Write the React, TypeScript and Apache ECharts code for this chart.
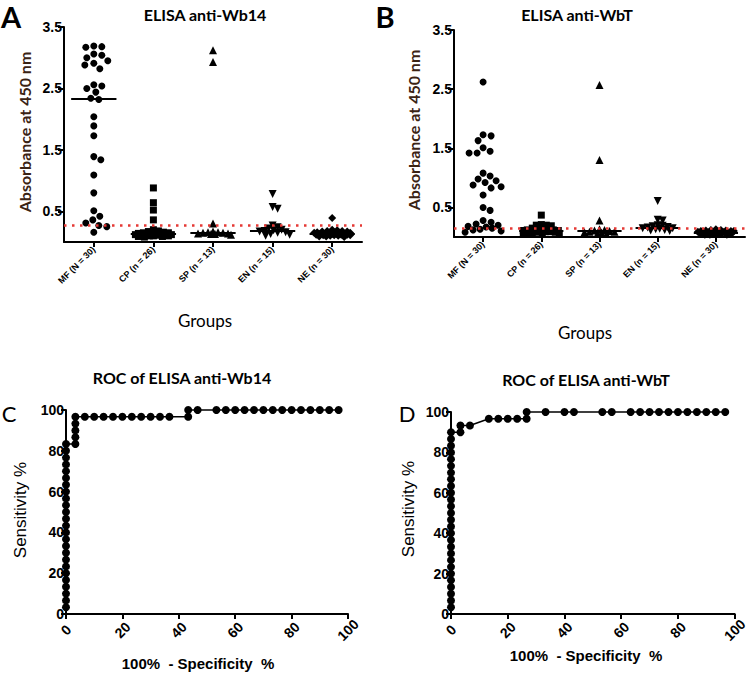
import React, { useEffect, useRef } from "react";
import * as echarts from "echarts";

const groups = ["MF (N = 30)", "CP (n = 26)", "SP (n = 13)", "EN (n = 15)", "NE (n = 30)"];
const groupSymbols = ["circle", "rect", "triangle", "triangle", "diamond"];
const groupSymbolRotate = [0, 0, 0, 180, 0];
const groupSymbolSize = [7, 7, 8, 8, 8];

// Panel A – ELISA anti-Wb14 absorbance values
const aMF = [3.19, 3.18, 3.17, 3.06, 3.04, 3.0, 2.95, 2.91, 2.88, 2.82, 2.56, 2.54, 2.5, 2.44, 2.34, 2.32, 2.04, 1.89, 1.73, 1.39, 1.34, 1.09, 0.8, 0.51, 0.42, 0.36, 0.31, 0.27, 0.25, 0.16];
const aCP = [0.88, 0.64, 0.52, 0.36, 0.2, 0.18, 0.17, 0.16, 0.15, 0.15, 0.14, 0.14, 0.13, 0.13, 0.12, 0.12, 0.12, 0.11, 0.11, 0.11, 0.1, 0.1, 0.1, 0.09, 0.09, 0.08];
const aSP = [3.12, 2.93, 0.3, 0.17, 0.16, 0.16, 0.15, 0.15, 0.14, 0.14, 0.13, 0.13, 0.12];
const aEN = [0.78, 0.57, 0.54, 0.27, 0.24, 0.22, 0.2, 0.19, 0.18, 0.17, 0.16, 0.15, 0.13, 0.12, 0.1];
const aNE = [0.39, 0.2, 0.19, 0.18, 0.18, 0.17, 0.17, 0.16, 0.16, 0.16, 0.15, 0.15, 0.15, 0.14, 0.14, 0.14, 0.13, 0.13, 0.13, 0.12, 0.12, 0.12, 0.11, 0.11, 0.11, 0.1, 0.1, 0.09, 0.09, 0.08];
const aCutoff = 0.28;

// Panel B – ELISA anti-WbT absorbance values
const bMF = [2.62, 1.73, 1.71, 1.63, 1.51, 1.45, 1.42, 1.42, 1.08, 1.03, 0.98, 0.95, 0.92, 0.88, 0.85, 0.83, 0.71, 0.5, 0.45, 0.28, 0.25, 0.22, 0.2, 0.18, 0.17, 0.15, 0.13, 0.12, 0.1, 0.08];
const bCP = [0.37, 0.21, 0.2, 0.2, 0.19, 0.15, 0.14, 0.13, 0.13, 0.12, 0.12, 0.11, 0.11, 0.1, 0.1, 0.1, 0.09, 0.09, 0.08, 0.08, 0.07, 0.07, 0.06, 0.06, 0.05, 0.05];
const bSP = [2.57, 1.3, 0.28, 0.13, 0.12, 0.11, 0.1, 0.09, 0.09, 0.08, 0.07, 0.06, 0.05];
const bEN = [0.61, 0.29, 0.28, 0.2, 0.19, 0.18, 0.17, 0.16, 0.15, 0.15, 0.14, 0.13, 0.12, 0.11, 0.1];
const bNE = [0.13, 0.12, 0.12, 0.11, 0.11, 0.1, 0.1, 0.1, 0.09, 0.09, 0.09, 0.09, 0.08, 0.08, 0.08, 0.08, 0.07, 0.07, 0.07, 0.07, 0.06, 0.06, 0.06, 0.06, 0.05, 0.05, 0.05, 0.04, 0.04, 0.04];
const bCutoff = 0.15;

const absTicks = [0.5, 1.5, 2.5, 3.5];

// Panel C – ROC anti-Wb14 (100% - specificity, sensitivity)
const rocC_fpr = [0, 0, 0, 0, 0, 0, 0, 0, 0, 0, 0, 0, 0, 0, 0, 0, 0, 0, 0, 0, 0, 0, 0, 0, 0,
  3.33, 3.33, 3.33, 3.33, 3.33,
  6.67, 10, 13.33, 16.67, 20, 23.33, 26.67, 30, 33.33, 36.67,
  43.33, 43.33,
  46.67, 53.33, 56.67, 60, 63.33, 66.67, 70, 73.33, 76.67, 80, 83.33, 86.67, 90, 93.33, 96.67];
const rocC_sens = [3.33, 6.67, 10, 13.33, 16.67, 20, 23.33, 26.67, 30, 33.33, 36.67, 40, 43.33, 46.67, 50, 53.33, 56.67, 60, 63.33, 66.67, 70, 73.33, 76.67, 80, 83.33,
  83.33, 86.67, 90, 93.33, 96.67,
  96.67, 96.67, 96.67, 96.67, 96.67, 96.67, 96.67, 96.67, 96.67, 96.67,
  96.67, 100,
  100, 100, 100, 100, 100, 100, 100, 100, 100, 100, 100, 100, 100, 100, 100];

// Panel D – ROC anti-WbT
const rocD_fpr = [0, 0, 0, 0, 0, 0, 0, 0, 0, 0, 0, 0, 0, 0, 0, 0, 0, 0, 0, 0, 0, 0, 0, 0, 0, 0, 0,
  3.33, 3.33, 6.67,
  13.33, 16.67, 20, 23.33, 26.67, 26.67,
  33.33, 40, 43.33, 53.33, 56.67, 63.33, 66.67, 70, 73.33, 76.67, 80, 83.33, 86.67, 90, 93.33, 96.67];
const rocD_sens = [3.33, 6.67, 10, 13.33, 16.67, 20, 23.33, 26.67, 30, 33.33, 36.67, 40, 43.33, 46.67, 50, 53.33, 56.67, 60, 63.33, 66.67, 70, 73.33, 76.67, 80, 83.33, 86.67, 90,
  90, 93.33, 93.33,
  96.67, 96.67, 96.67, 96.67, 96.67, 100,
  100, 100, 100, 100, 100, 100, 100, 100, 100, 100, 100, 100, 100, 100, 100, 100];

function swarm(values: number[], idx: number, pxX: number, pxY: number, sep: number, maxHalf: number) {
  const sorted = [...values].sort((a, b) => b - a);
  const placed: number[][] = [];
  const out: number[][] = [];
  for (const v of sorted) {
    const py = v * pxY;
    let best: number | null = null;
    let alt = 0;
    let altScore = -1;
    for (let k = 0; k <= 2 * maxHalf; k++) {
      const off = k === 0 ? 0 : k % 2 ? Math.ceil(k / 2) : -k / 2;
      let minD = Infinity;
      for (const p of placed) {
        const d = Math.hypot(p[0] - off, p[1] - py);
        if (d < minD) minD = d;
      }
      if (minD >= sep) {
        best = off;
        break;
      }
      if (minD > altScore) {
        altScore = minD;
        alt = off;
      }
    }
    if (best === null) best = alt;
    placed.push([best, py]);
    out.push([idx + best / pxX, v]);
  }
  return out;
}

function median(values: number[]) {
  const s = [...values].sort((a, b) => a - b);
  const n = s.length;
  return n % 2 ? s[(n - 1) / 2] : (s[n / 2 - 1] + s[n / 2]) / 2;
}

const tickFont = {
  fontFamily: "'Liberation Sans Narrow','Liberation Sans',Arial,sans-serif",
  fontWeight: "bold" as const,
  fontSize: 14,
  color: "#000",
};
const axisLine = { show: true, onZero: false, lineStyle: { color: "#000", width: 2 } };
const axisTickStyle = { color: "#000", width: 2 };

export default function App() {
  const ref = useRef<HTMLDivElement>(null);
  useEffect(() => {
    document.body.style.margin = "0";
    if (!ref.current) return;
    const chart = echarts.init(ref.current, null, { renderer: "svg" });

    const panels = [
      { data: [aMF, aCP, aSP, aEN, aNE], cutoff: aCutoff, pxX: 59.6, pxY: 61.4, medians: [true, true, true, true, true] },
      { data: [bMF, bCP, bSP, bEN, bNE], cutoff: bCutoff, pxX: 58.2, pxY: 59.1, medians: [false, true, true, true, true] },
    ];

    const series: any[] = [];
    panels.forEach((p, pi) => {
      p.data.forEach((vals, gi) => {
        series.push({
          type: "scatter",
          xAxisIndex: pi,
          yAxisIndex: pi,
          clip: false,
          symbol: groupSymbols[gi],
          symbolRotate: groupSymbolRotate[gi],
          symbolSize: groupSymbolSize[gi],
          itemStyle: { color: "#000", opacity: 1 },
          data: swarm(vals, gi, p.pxX, p.pxY, gi === 0 ? 7.5 : 4.5, 18),
          z: 2,
          markLine: p.medians[gi]
            ? {
                silent: true,
                symbol: ["none", "none"],
                label: { show: false },
                lineStyle: { color: "#000", width: 2, type: "solid" },
                data: [[{ coord: [gi - 0.38, median(vals)] }, { coord: [gi + 0.38, median(vals)] }]],
                z: 3,
              }
            : undefined,
        });
      });
      series.push({
        type: "scatter",
        xAxisIndex: pi,
        yAxisIndex: pi,
        data: [],
        z: 5,
        markLine: {
          silent: true,
          symbol: ["none", "none"],
          label: { show: false },
          lineStyle: { color: "#e53935", width: 2.5, type: [2.5, 5.5] },
          data: [{ yAxis: p.cutoff }],
          z: 5,
        },
      });
    });

    const rocs = [
      { fpr: rocC_fpr, sens: rocC_sens },
      { fpr: rocD_fpr, sens: rocD_sens },
    ];
    rocs.forEach((r, ri) => {
      series.push({
        type: "line",
        xAxisIndex: 2 + ri,
        yAxisIndex: 2 + ri,
        clip: false,
        symbol: "circle",
        symbolSize: 8,
        showAllSymbol: true,
        lineStyle: { color: "#000", width: 1.5 },
        itemStyle: { color: "#000", opacity: 1 },
        data: r.fpr.map((x, i) => [x, r.sens[i]]),
      });
    });

    const groupAxis = (gi: number) => ({
      type: "value",
      gridIndex: gi,
      min: -0.5,
      max: 4.5,
      axisLine,
      splitLine: { show: false },
      axisTick: { show: true, length: 5, lineStyle: axisTickStyle, customValues: [0, 1, 2, 3, 4] },
      axisLabel: {
        customValues: [0, 1, 2, 3, 4],
        formatter: (v: number) => groups[Math.round(v)],
        rotate: 45,
        margin: 6,
        fontFamily: "'Liberation Sans',Arial,sans-serif",
        fontWeight: "bold",
        fontSize: 9,
        color: "#000",
      },
    });
    const absAxis = (gi: number) => ({
      type: "value",
      gridIndex: gi,
      min: 0,
      max: 3.5,
      axisLine,
      splitLine: { show: false },
      axisTick: { show: true, length: 6, lineStyle: axisTickStyle, customValues: absTicks },
      axisLabel: { ...tickFont, customValues: absTicks, formatter: (v: number) => v.toFixed(1), margin: 2 },
    });
    const rocX = (gi: number) => ({
      type: "value",
      gridIndex: gi,
      min: 0,
      max: 100,
      interval: 20,
      axisLine,
      splitLine: { show: false },
      axisTick: { show: true, length: 5, lineStyle: axisTickStyle },
      axisLabel: { ...tickFont, rotate: 45, margin: 16, align: "center" },
    });
    const rocY = (gi: number) => ({
      type: "value",
      gridIndex: gi,
      min: 0,
      max: 100,
      interval: 20,
      axisLine,
      splitLine: { show: false },
      axisTick: { show: true, length: 5, lineStyle: axisTickStyle },
      axisLabel: { ...tickFont, margin: 2 },
    });

    const txt = (text: string, x: number, y: number, font: string, extra: any = {}) => ({
      type: "text",
      x,
      y,
      ...extra,
      style: { text, font, fill: extra.fill || "#000", align: "center", verticalAlign: "middle" },
    });
    const titleFont = "bold 16px Lato, 'Open Sans', sans-serif";
    const absLabelFont = "bold 16px Lato, 'Open Sans', sans-serif";

    chart.setOption({
      animation: false,
      grid: [
        { left: 64, top: 27, width: 298, height: 215 },
        { left: 454, top: 30, width: 291, height: 207 },
        { left: 66, top: 410, width: 282, height: 204 },
        { left: 451, top: 412, width: 288, height: 202 },
      ],
      xAxis: [groupAxis(0), groupAxis(1), rocX(2), rocX(3)],
      yAxis: [absAxis(0), absAxis(1), rocY(2), rocY(3)],
      series,
      graphic: [
        txt("A", 11, 16, "bold 29px Lato, sans-serif"),
        txt("B", 385, 16, "bold 29px Lato, sans-serif"),
        txt("C", 9, 413, "22px Lato, sans-serif"),
        txt("D", 407, 413, "22px Lato, sans-serif"),
        txt("ELISA anti-Wb14", 205, 14, titleFont),
        txt("ELISA anti-WbT", 577, 14, titleFont),
        txt("ROC of ELISA anti-Wb14", 182, 377, titleFont),
        txt("ROC of ELISA anti-WbT", 586, 379, titleFont),
        txt("Absorbance at 450 nm", 24, 132, absLabelFont, { rotation: Math.PI / 2, fill: "#3b2314" }),
        txt("Absorbance at 450 nm", 413, 130, absLabelFont, { rotation: Math.PI / 2, fill: "#3b2314" }),
        txt("Groups", 205, 320, "17px Lato, sans-serif"),
        txt("Groups", 585, 332, "17px Lato, sans-serif"),
        txt("Sensitivity %", 20, 510, "17px 'Liberation Sans', Arial, sans-serif", { rotation: Math.PI / 2 }),
        txt("Sensitivity %", 408, 509, "17px 'Liberation Sans', Arial, sans-serif", { rotation: Math.PI / 2 }),
        txt("100%  - Specificity  %", 198, 663, "bold 15px 'Liberation Sans', Arial, sans-serif"),
        txt("100%  - Specificity  %", 586, 655, "bold 15px 'Liberation Sans', Arial, sans-serif"),
      ],
    });
    return () => chart.dispose();
  }, []);
  return <div ref={ref} style={{ width: 750, height: 676 }} />;
}
